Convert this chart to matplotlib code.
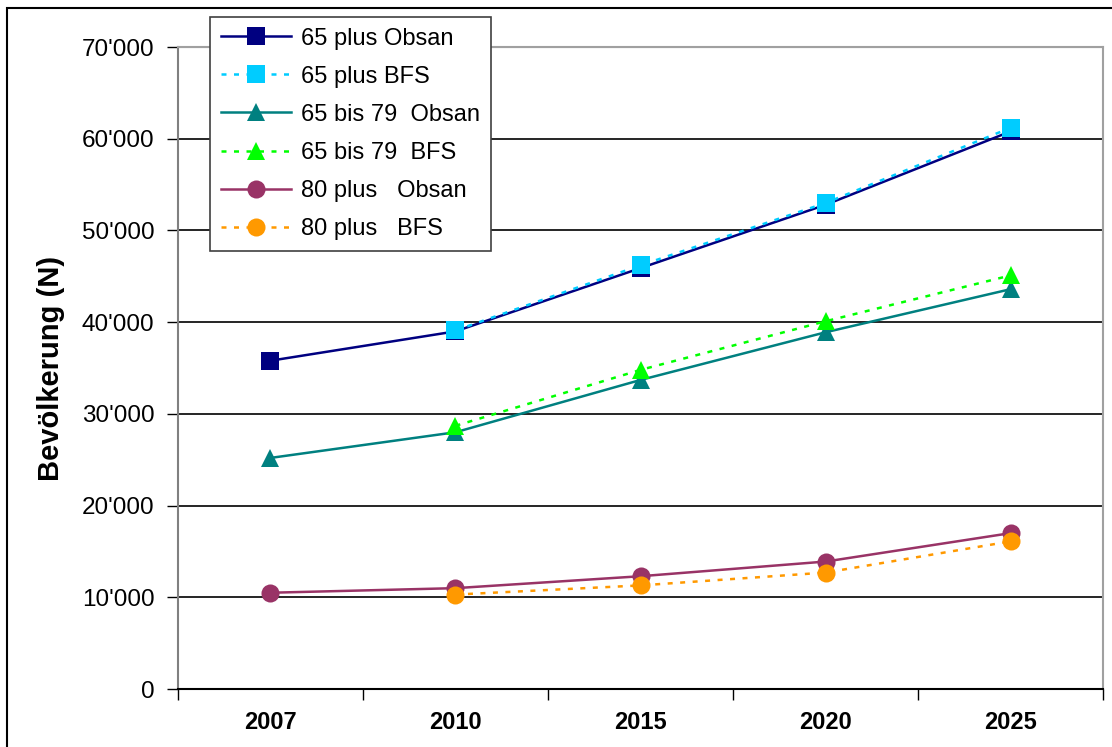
import matplotlib.pyplot as plt
from matplotlib.patches import Rectangle
from matplotlib.ticker import FuncFormatter

years = ["2007", "2010", "2015", "2020", "2025"]

plus65_obsan = [35800, 39000, 45900, 52800, 60800]
plus65_bfs = [None, 39100, 46200, 53000, 61200]
a65_79_obsan = [25200, 28000, 33700, 38900, 43600]
a65_79_bfs = [None, 28700, 34800, 40100, 45100]
plus80_obsan = [10500, 11000, 12300, 13900, 17000]
plus80_bfs = [None, 10300, 11300, 12700, 16100]

plt.rcParams["font.family"] = ["Liberation Sans", "DejaVu Sans"]

fig = plt.figure(figsize=(11.12, 7.47), dpi=100)
ax = fig.add_axes([0.160, 0.0776, 0.832, 0.8594])

x = list(range(len(years)))


def pts(vals):
    xs = [i for i, v in zip(x, vals) if v is not None]
    ys = [v for v in vals if v is not None]
    return xs, ys


series = [
    (plus65_obsan, "65 plus Obsan", "#000080", "-", "s"),
    (plus65_bfs, "65 plus BFS", "#00CCFF", (0, (2, 3)), "s"),
    (a65_79_obsan, "65 bis 79  Obsan", "#008080", "-", "^"),
    (a65_79_bfs, "65 bis 79  BFS", "#00FF00", (0, (2, 3)), "^"),
    (plus80_obsan, "80 plus   Obsan", "#993366", "-", "o"),
    (plus80_bfs, "80 plus   BFS", "#FF9900", (0, (2, 3)), "o"),
]

handles = []
for vals, label, color, ls, mk in series:
    xs, ys = pts(vals)
    h, = ax.plot(xs, ys, color=color, linestyle=ls, linewidth=1.8,
                 marker=mk, markersize=13, markeredgewidth=0, label=label)
    handles.append(h)

ax.set_xlim(-0.5, 4.5)
ax.set_ylim(0, 70000)
ax.set_yticks(range(0, 70001, 10000))
ax.yaxis.set_major_formatter(
    FuncFormatter(lambda v, p: "0" if v == 0 else f"{int(v):,}".replace(",", "'")))
ax.set_xticks(x)
ax.set_xticklabels(years)
ax.set_xticks([i - 0.5 for i in range(len(years) + 1)], minor=True)
ax.tick_params(axis="x", which="major", length=0, pad=16)
ax.tick_params(axis="x", which="minor", length=8, width=1, color="black")
ax.tick_params(axis="y", length=8, width=1, pad=9, labelsize=17.5)
for lab in ax.get_xticklabels():
    lab.set_fontweight("bold")
    lab.set_fontsize(17)

for yv in range(10000, 70000, 10000):
    ax.axhline(yv, color="black", linewidth=1.2, zorder=0)
ax.axhline(70000, color="#a0a0a0", linewidth=1.5, zorder=0)

ax.spines["left"].set_color("#808080")
ax.spines["right"].set_color("#a0a0a0")
ax.spines["top"].set_color("#a0a0a0")
ax.spines["bottom"].set_color("black")
for s in ax.spines.values():
    s.set_linewidth(1.5)

ax.set_ylabel("Bevölkerung (N)", fontsize=21, fontweight="bold", labelpad=12)

leg = fig.legend(handles=handles, loc="upper left",
                 bbox_to_anchor=(210 / 1112, 1 - 17 / 747),
                 fontsize=17, frameon=True, fancybox=False, framealpha=1,
                 edgecolor="#404040", handlelength=3.0, borderpad=0.45,
                 labelspacing=0.68, handletextpad=0.42, borderaxespad=0)
leg.get_frame().set_linewidth(1.2)

fig.patches.append(Rectangle((7 / 1112, -0.1), 1.2, 1 - 8 / 747 + 0.1,
                             transform=fig.transFigure, fill=False,
                             edgecolor="black", linewidth=1.5))

fig.savefig("out.png", dpi=100)
